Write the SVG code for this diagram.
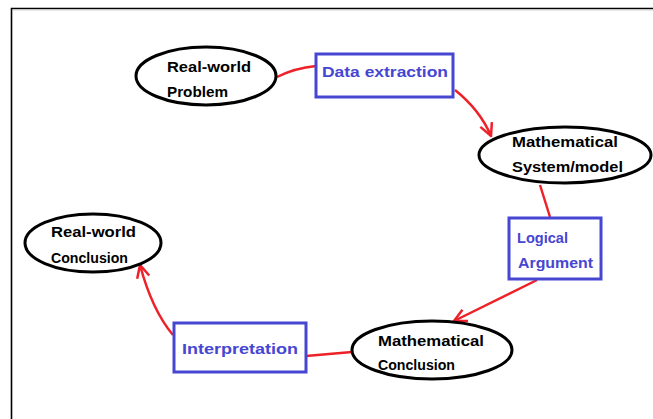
<svg xmlns="http://www.w3.org/2000/svg" width="653" height="419" viewBox="0 0 653 419">
<defs>
<style>
.ell{fill:#fff;stroke:#000;stroke-width:3}
.box{fill:#fff;stroke:#4646d2;stroke-width:3}
.tb{font-family:"Liberation Sans","DejaVu Sans",sans-serif;font-weight:bold;font-size:14.5px;fill:#000}
.tl{font-family:"Liberation Sans","DejaVu Sans",sans-serif;font-weight:bold;font-size:14.5px;fill:#4646d2}
.con{fill:none;stroke:#ee2028;stroke-width:2.5}
</style>
<marker id="arr" viewBox="0 0 12 12" refX="11" refY="6" markerWidth="6" markerHeight="6" orient="auto" markerUnits="strokeWidth">
<path d="M1,1 L11,6 L1,11" fill="none" stroke="#ee2028" stroke-width="2"/>
</marker>
</defs>
<rect width="653" height="419" fill="#fff"/>
<path d="M11.5,419 V8.5 H653" fill="none" stroke="#000" stroke-width="1.6"/>
<line x1="13" y1="10" x2="653" y2="10" stroke="#ccc" stroke-width="1"/>
<g id="connectors">
<path class="con" d="M277,77 Q295,68 316,66"/>
<path class="con" d="M455,90 Q480,110 491,136" marker-end="url(#arr)"/>
<path class="con" d="M540,185 L550,217"/>
<path class="con" d="M537,280 L454,321" marker-end="url(#arr)"/>
<path class="con" d="M306,356 L352,352"/>
<path class="con" d="M173,335 Q152,310 140,265" marker-end="url(#arr)"/>
</g>
<g id="rw-problem">
<ellipse class="ell" cx="206" cy="76" rx="70" ry="29"/>
<text class="tb" x="167" y="72" textLength="84" lengthAdjust="spacingAndGlyphs">Real-world</text>
<text class="tb" x="167" y="97" textLength="61" lengthAdjust="spacingAndGlyphs">Problem</text>
</g>
<g id="data-extraction">
<rect class="box" x="316" y="54" width="137" height="43"/>
<text class="tl" x="322" y="77" textLength="126" lengthAdjust="spacingAndGlyphs">Data extraction</text>
</g>
<g id="math-system">
<ellipse class="ell" cx="565" cy="155" rx="86" ry="28"/>
<text class="tb" x="512" y="147" textLength="106" lengthAdjust="spacingAndGlyphs">Mathematical</text>
<text class="tb" x="512" y="172" textLength="111" lengthAdjust="spacingAndGlyphs">System/model</text>
</g>
<g id="logical-argument">
<rect class="box" x="509" y="218" width="92" height="61"/>
<text class="tl" x="517" y="243" textLength="51" lengthAdjust="spacingAndGlyphs">Logical</text>
<text class="tl" x="518" y="268" textLength="75" lengthAdjust="spacingAndGlyphs">Argument</text>
</g>
<g id="math-conclusion">
<ellipse class="ell" cx="432" cy="350" rx="80" ry="29"/>
<text class="tb" x="378" y="346" textLength="106" lengthAdjust="spacingAndGlyphs">Mathematical</text>
<text class="tb" x="378" y="370" textLength="77" lengthAdjust="spacingAndGlyphs">Conclusion</text>
</g>
<g id="interpretation">
<rect class="box" x="174" y="323" width="132" height="49"/>
<text class="tl" x="182" y="354" textLength="116" lengthAdjust="spacingAndGlyphs">Interpretation</text>
</g>
<g id="rw-conclusion">
<ellipse class="ell" cx="93" cy="243" rx="68" ry="29"/>
<text class="tb" x="51" y="237" textLength="85" lengthAdjust="spacingAndGlyphs">Real-world</text>
<text class="tb" x="51" y="263" textLength="77" lengthAdjust="spacingAndGlyphs">Conclusion</text>
</g>
</svg>
